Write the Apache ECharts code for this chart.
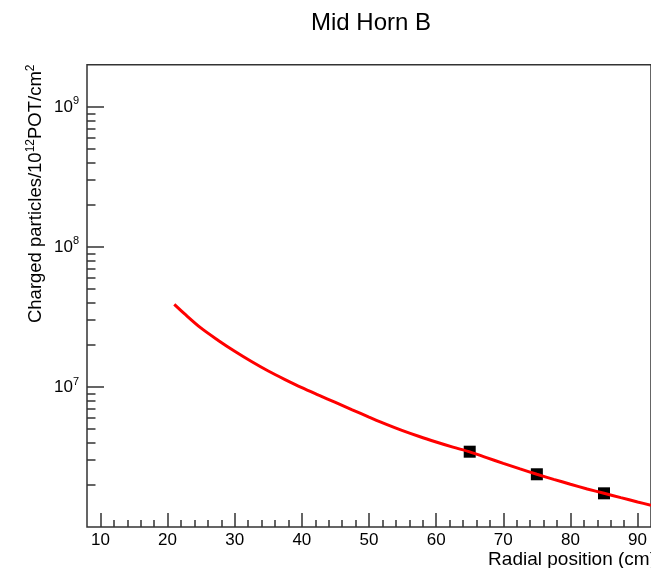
<!DOCTYPE html>
<html>
<head>
<meta charset="utf-8">
<script src="https://cdn.jsdelivr.net/npm/echarts@6/dist/echarts.min.js"></script>
<style>
  html, body { margin: 0; padding: 0; background: #fff; }
  #chart { width: 651px; height: 568px; }
</style>
</head>
<body>
<div id="chart"></div>
<script>
// Texts
const chartTitle = 'Mid Horn B';
const xTitle = 'Radial position (cm)';

// Fitted charged-particle density curve versus radius
const curveRadius = [21, 22.5, 25, 27.5, 30, 32.5, 35, 37.5, 40, 42.5, 45, 47.5, 50, 52.5, 55,
                     57.5, 60, 62.5, 65, 67.5, 70, 72.5, 75, 77.5, 80, 82.5, 85, 87.5, 90, 92];
const curveFlux = [3.89e7, 3.34e7, 2.63e7, 2.16e7, 1.80e7, 1.52e7, 1.30e7, 1.13e7, 9.89e6, 8.75e6,
                   7.76e6, 6.87e6, 6.10e6, 5.43e6, 4.88e6, 4.43e6, 4.05e6, 3.72e6, 3.44e6, 3.13e6,
                   2.85e6, 2.60e6, 2.38e6, 2.19e6, 2.02e6, 1.87e6, 1.74e6, 1.62e6, 1.51e6, 1.43e6];

// Measured points
const pointRadius = [65, 75, 85];
const pointFlux = [3.45e6, 2.38e6, 1.74e6];

// Axis ranges and ticks
const xRange = [8, 92];
const yRange = [1e6, 2e9];
const xMajorTicks = [10, 20, 30, 40, 50, 60, 70, 80, 90];
const xMinorTicks = [12, 14, 16, 18, 22, 24, 26, 28, 32, 34, 36, 38, 42, 44, 46, 48,
                     52, 54, 56, 58, 62, 64, 66, 68, 72, 74, 76, 78, 82, 84, 86, 88];
const yMajorTicks = [1e7, 1e8, 1e9];
const yMinorTicks = [2e6, 3e6, 4e6, 5e6, 6e6, 7e6, 8e6, 9e6,
                     2e7, 3e7, 4e7, 5e7, 6e7, 7e7, 8e7, 9e7,
                     2e8, 3e8, 4e8, 5e8, 6e8, 7e8, 8e8, 9e8];

const FONT = '"Liberation Sans", Arial, Helvetica, sans-serif';
const INK = '#333';

const chart = echarts.init(document.getElementById('chart'), null, { renderer: 'canvas' });

const curveData = curveRadius.map((r, i) => [r, curveFlux[i]]);
const pointData = pointRadius.map((r, i) => [r, pointFlux[i]]);

function xAxisBase(extra) {
  return Object.assign({
    type: 'value', gridIndex: 0, position: 'bottom',
    min: xRange[0], max: xRange[1],
    splitLine: { show: false },
    axisLine: { show: false }
  }, extra);
}
function yAxisBase(extra) {
  return Object.assign({
    type: 'log', logBase: 10, gridIndex: 0, position: 'left',
    min: yRange[0], max: yRange[1],
    splitLine: { show: false },
    axisLine: { show: false }
  }, extra);
}

const tickStyle = { color: INK, width: 1.5 };

const option = {
  animation: false,
  backgroundColor: '#fff',
  grid: {
    left: 87, top: 64.8, width: 569.5, height: 462.2,
    show: true, borderColor: INK, borderWidth: 1.5, backgroundColor: 'transparent'
  },
  xAxis: [
    xAxisBase({
      axisTick: { show: true, inside: true, length: 14, customValues: xMajorTicks, lineStyle: tickStyle },
      axisLabel: { show: true, customValues: xMajorTicks, margin: 5,
                   color: '#000', fontFamily: FONT, fontSize: 17 }
    }),
    xAxisBase({
      axisTick: { show: true, inside: true, length: 7, customValues: xMinorTicks, lineStyle: tickStyle },
      axisLabel: { show: false }
    })
  ],
  yAxis: [
    yAxisBase({
      axisTick: { show: true, inside: true, length: 17, customValues: yMajorTicks, lineStyle: tickStyle },
      axisLabel: {
        show: true, customValues: yMajorTicks, margin: 8,
        formatter: v => '{b|10}{s|' + Math.round(Math.log10(v)) + '}',
        rich: {
          b: { fontFamily: FONT, fontSize: 17, color: '#000', lineHeight: 22 },
          s: { fontFamily: FONT, fontSize: 11, color: '#000', padding: [0, 0, 11, 0] }
        }
      }
    }),
    yAxisBase({
      axisTick: { show: true, inside: true, length: 8.5, customValues: yMinorTicks, lineStyle: tickStyle },
      axisLabel: { show: false }
    })
  ],
  series: [
    {
      type: 'scatter', xAxisIndex: 0, yAxisIndex: 0,
      data: pointData, symbol: 'rect', symbolSize: 12,
      itemStyle: { color: '#000', opacity: 1 }, z: 2
    },
    {
      type: 'line', xAxisIndex: 0, yAxisIndex: 0,
      data: curveData, showSymbol: false, smooth: 0.3,
      lineStyle: { color: '#ff0000', width: 3 }, z: 3
    }
  ],
  graphic: [
    {
      type: 'text', x: 371, y: 23.5,
      style: { text: chartTitle, fontFamily: FONT, fontSize: 24, fill: '#000',
               align: 'center', verticalAlign: 'middle' }
    },
    {
      type: 'text', x: 656, y: 559.5,
      style: { text: xTitle, fontFamily: FONT, fontSize: 19, fill: '#000',
               align: 'right', verticalAlign: 'middle' }
    },
    {
      type: 'text', x: 35.6, y: 64.5, rotation: Math.PI / 2,
      style: {
        text: '{b|Charged particles/10}{s|12}{b|POT/cm}{s|2}',
        align: 'right', verticalAlign: 'middle',
        rich: {
          b: { fontFamily: FONT, fontSize: 18.5, fill: '#000', lineHeight: 24 },
          s: { fontFamily: FONT, fontSize: 12, fill: '#000', padding: [0, 0, 10, 0] }
        }
      }
    }
  ]
};

chart.setOption(option);
</script>
</body>
</html>
